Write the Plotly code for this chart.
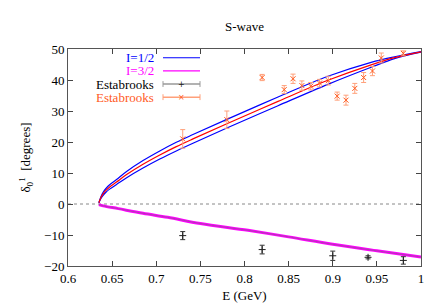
import plotly.graph_objects as go

# ---- data ----
E_band = [0.635, 0.6372, 0.6396, 0.6430, 0.6472, 0.655, 0.666, 0.685, 0.704, 0.7227, 0.7416, 0.78, 0.838, 0.8945, 0.9435, 0.97, 1.0]
d_center = [0.4, 2.0, 3.2, 4.4, 5.5, 7.1, 9.4, 12.8, 15.8, 18.5, 21.0, 25.9, 33.1, 39.9, 44.9, 47.2, 49.1]
d_upper = [0.4, 2.3, 3.7, 5.0, 6.2, 7.9, 10.4, 14.0, 17.1, 19.9, 22.4, 27.3, 34.5, 41.2, 45.7, 47.5, 49.2]
d_lower = [0.4, 1.7, 2.7, 3.8, 4.8, 6.3, 8.4, 11.6, 14.5, 17.1, 19.6, 24.5, 31.7, 38.6, 44.1, 46.9, 49.0]

E_i32 = [0.635, 0.640, 0.657, 0.685, 0.713, 0.750, 0.804, 0.850, 0.900, 0.950, 1.0]
d_i32 = [-0.2, -0.6, -1.5, -3.0, -4.3, -6.3, -8.5, -10.6, -13.0, -15.1, -17.1]

E_est12 = [0.73, 0.78, 0.82, 0.845, 0.855, 0.865, 0.875, 0.885, 0.895, 0.905, 0.915, 0.925, 0.935, 0.945, 0.955, 0.98]
d_est12 = [21.0, 27.2, 40.8, 36.9, 40.4, 38.2, 38.0, 39.0, 39.8, 34.8, 33.5, 37.3, 40.8, 42.9, 47.1, 48.6]
e_est12 = [3.0, 2.8, 1.0, 1.3, 1.5, 1.5, 1.2, 1.2, 1.4, 1.3, 1.6, 1.6, 1.6, 1.5, 1.6, 0.8]

E_est32 = [0.73, 0.82, 0.90, 0.94, 0.98]
d_est32 = [-10.2, -14.7, -16.7, -17.2, -18.2]
e_est32 = [1.3, 1.4, 1.5, 0.5, 1.2]

x_ticks = [0.6, 0.65, 0.7, 0.75, 0.8, 0.85, 0.9, 0.95, 1.0]
x_ticklabels = ["0.6", "0.65", "0.7", "0.75", "0.8", "0.85", "0.9", "0.95", "1"]
y_ticks = [-20, -10, 0, 10, 20, 30, 40, 50]

FONT = "Liberation Serif, Times New Roman, serif"
BLUE = "#0000ff"
RED = "#ff0000"
MAG = "#ff00ff"
GREEN = "#2e9e2e"
ORANGE = "#ff5a1e"
ORANGE_BAR = "#ffa07a"

fig = go.Figure()

# zero line
fig.add_trace(go.Scatter(x=[0.6, 1.0], y=[0, 0], mode="lines",
                         line=dict(color="#888888", width=1, dash="dot"), hoverinfo="skip"))

# I=3/2 band (magenta with green center)
fig.add_trace(go.Scatter(x=E_i32, y=d_i32, mode="lines", line=dict(color=MAG, width=3.0, shape="spline")))
fig.add_trace(go.Scatter(x=E_i32, y=d_i32, mode="lines", line=dict(color=GREEN, width=0.8, shape="spline"), opacity=0.5))

# I=1/2 band
fig.add_trace(go.Scatter(x=E_band, y=d_upper, mode="lines", line=dict(color=BLUE, width=1.2, shape="spline")))
fig.add_trace(go.Scatter(x=E_band, y=d_lower, mode="lines", line=dict(color=BLUE, width=1.2, shape="spline")))
fig.add_trace(go.Scatter(x=E_band, y=d_center, mode="lines", line=dict(color=RED, width=1.2, shape="spline")))

# Estabrooks data
fig.add_trace(go.Scatter(x=E_est32, y=d_est32, mode="markers",
                         marker=dict(symbol="cross-thin", size=5, color="#222222",
                                     line=dict(color="#222222", width=1)),
                         error_y=dict(type="data", array=e_est32, color="#333333", thickness=1, width=2.5)))
fig.add_trace(go.Scatter(x=E_est12, y=d_est12, mode="markers",
                         marker=dict(symbol="x-thin", size=5, color=ORANGE,
                                     line=dict(color=ORANGE, width=1)),
                         error_y=dict(type="data", array=e_est12, color=ORANGE_BAR, thickness=1, width=2.5)))

# ---- custom gnuplot-style legend (text right aligned, sample on the right) ----
L, R_, T, B = 60, 23, 41, 41
W, H = 436 - L - R_, 305 - T - B
def px(x):
    return (x - L) / W
def py(y):
    return (305 - B - y) / H

legend_items = [("I=1/2", BLUE, 50), ("I=3/2", MAG, 63.5), ("Estabrooks", "#000000", 77), ("Estabrooks", ORANGE, 90.5)]
line_cols = [BLUE, MAG, "#999999", ORANGE_BAR]
shapes = []
annots = []
for i, (txt, col, yy) in enumerate(legend_items):
    annots.append(dict(text=txt, x=px(148), y=py(yy), xref="paper", yref="paper",
                       xanchor="right", yanchor="middle", showarrow=False, height=13,
                       font=dict(family=FONT, size=13, color=col)))
    shapes.append(dict(type="line", xref="paper", yref="paper", x0=px(155), x1=px(192),
                       y0=py(yy), y1=py(yy), line=dict(color=line_cols[i], width=1.2 if i < 2 else 1.5)))
    if i >= 2:
        for xx in (155, 192):
            shapes.append(dict(type="line", xref="paper", yref="paper", x0=px(xx), x1=px(xx),
                               y0=py(yy - 3), y1=py(yy + 3), line=dict(color=line_cols[i], width=1)))
        annots.append(dict(text="+" if i == 2 else "×", x=px(173.5), y=py(yy), xref="paper", yref="paper",
                           xanchor="center", yanchor="middle", showarrow=False, height=9,
                           font=dict(family="DejaVu Sans", size=8, color="#222222" if i == 2 else ORANGE)))

fig.update_layout(
    width=436, height=305,
    margin=dict(l=L, r=R_, t=T, b=B),
    paper_bgcolor="white", plot_bgcolor="white",
    showlegend=False,
    font=dict(family=FONT, size=13, color="#000000"),
    title=dict(text="S-wave", x=(L + W / 2) / 436, xanchor="center", y=1 - 18 / 305, yanchor="middle",
               font=dict(family=FONT, size=13)),
    shapes=shapes,
    annotations=annots,
)
fig.update_xaxes(range=[0.6, 1.0], tickvals=x_ticks, ticktext=x_ticklabels,
                 ticks="inside", ticklen=5, tickcolor="#444444", mirror="ticks",
                 showline=True, linecolor="#555555", linewidth=1, showgrid=False, zeroline=False,
                 title=dict(text="E (GeV)", font=dict(family=FONT, size=13), standoff=6),
                 tickfont=dict(family=FONT, size=13))
fig.update_yaxes(range=[-20, 50], tickvals=y_ticks,
                 ticks="inside", ticklen=5, tickcolor="#444444", mirror="ticks",
                 showline=True, linecolor="#555555", linewidth=1, showgrid=False, zeroline=False,
                 title=dict(text="δ<sub>0</sub><sup>1</sup>  [degrees]", font=dict(family=FONT, size=13), standoff=10),
                 tickfont=dict(family=FONT, size=13))

fig.write_html("out.html")
